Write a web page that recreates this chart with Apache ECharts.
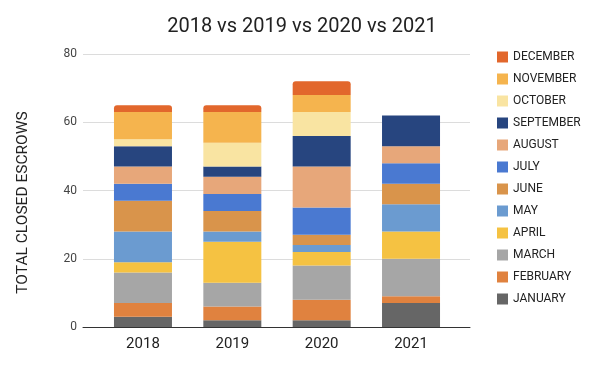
<!DOCTYPE html>
<html><head><meta charset="utf-8">
<script src="https://cdn.jsdelivr.net/npm/echarts@6/dist/echarts.min.js"></script>
<style>html,body{margin:0;padding:0;background:#fff}#c{width:594px;height:368px}</style>
</head><body><div id="c"></div>
<script>
const years = ['2018','2019','2020','2021'];
const months = ['JANUARY','FEBRUARY','MARCH','APRIL','MAY','JUNE','JULY','AUGUST','SEPTEMBER','OCTOBER','NOVEMBER','DECEMBER'];
const january   = [3, 2, 2, 7];
const february  = [4, 4, 6, 2];
const march     = [9, 7, 10, 11];
const april     = [3, 12, 4, 8];
const may       = [9, 3, 2, 8];
const june      = [9, 6, 3, 6];
const july      = [5, 5, 8, 6];
const august    = [5, 5, 12, 5];
const september = [6, 3, 9, 9];
const october   = [2, 7, 7, 0];
const november  = [8, 9, 5, 0];
const december  = [2, 2, 4, 0];
const yTicks = [0, 20, 40, 60, 80];
const colors = ['#666666','#e0823f','#a6a6a6','#f5c242','#6b9bd0','#d9944b','#4a79d1','#e7a77a','#27457f','#f9e4a2','#f5b44e','#e2672c'];
const values = [january,february,march,april,may,june,july,august,september,october,november,december];

const series = months.map((m, i) => ({
  name: m,
  type: 'bar',
  stack: 'total',
  xAxisIndex: 1, yAxisIndex: 1,
  barWidth: 58,
  itemStyle: { color: colors[i], borderRadius: i === 11 ? [3,3,0,0] : 0 },
  data: values[i]
}));

const chart = echarts.init(document.getElementById('c'));
chart.setOption({
  animation: false,
  color: colors,
  title: {
    text: '2018 vs 2019 vs 2020 vs 2021',
    left: 297, top: 12, textAlign: 'center',
    textStyle: { fontFamily: 'Roboto', fontSize: 20, fontWeight: 'normal', color: '#222' }
  },
  legend: {
    data: months.slice().reverse(),
    orient: 'vertical',
    left: 492, top: 46,
    icon: 'rect', itemWidth: 11, itemHeight: 11, itemGap: 10,
    textStyle: { fontFamily: 'Roboto', fontSize: 12, color: '#222' }
  },
  grid: [
    { left: 83, right: 124, top: 54, bottom: 41 },
    { left: 98.3, right: 138.3, top: 54, bottom: 41 }
  ],
  xAxis: [
    {
      gridIndex: 0, type: 'value', min: 0, max: 1,
      axisLine: { show: true, onZero: false, lineStyle: { color: '#333', width: 1 } },
      axisTick: { show: false }, splitLine: { show: false }, axisLabel: { show: false }
    },
    {
      gridIndex: 1, type: 'category', data: years,
      axisLine: { show: false }, axisTick: { show: false },
      axisLabel: { fontFamily: 'Roboto', fontSize: 15, color: '#222', margin: 10 }
    }
  ],
  yAxis: [
    {
      gridIndex: 0, type: 'value', min: 0, max: 80, interval: 20,
      name: 'TOTAL CLOSED ESCROWS', nameLocation: 'middle', nameGap: 52,
      nameTextStyle: { fontFamily: 'Roboto', fontSize: 15.5, color: '#222', padding: [0, 24, 0, 0] },
      axisLine: { show: false }, axisTick: { show: false },
      axisLabel: { fontFamily: 'Roboto', fontSize: 12, color: '#444', margin: 6,
        formatter: v => yTicks.includes(v) ? String(v) : '' },
      splitLine: { lineStyle: { color: '#dcdcdc' } }
    },
    {
      gridIndex: 1, type: 'value', min: 0, max: 80, interval: 20,
      axisLine: { show: false }, axisTick: { show: false },
      axisLabel: { show: false }, splitLine: { show: false }
    }
  ],
  series: series
});
</script></body></html>
